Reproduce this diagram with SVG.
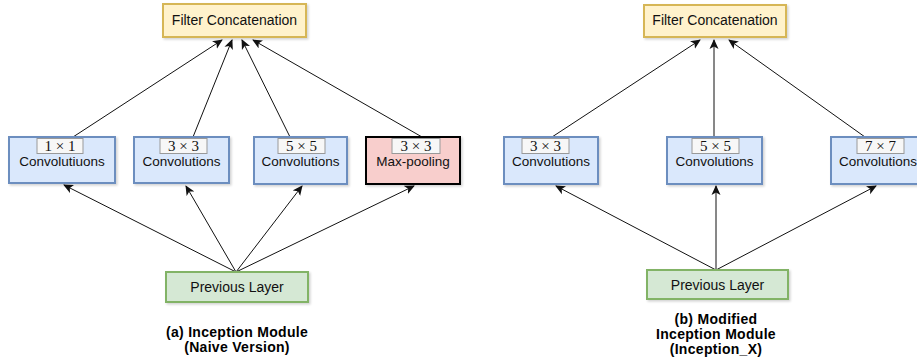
<svg xmlns="http://www.w3.org/2000/svg" width="917" height="362" viewBox="0 0 917 362">
<style>
.conv{fill:#dae8fc;stroke:#6c8ebf;stroke-width:2}
.pool{fill:#f8cecc;stroke:#000;stroke-width:2}
.cat{fill:#fff2cc;stroke:#d6b656;stroke-width:2}
.prev{fill:#d5e8d4;stroke:#82b366;stroke-width:2}
.lab{fill:#f7f7f7;stroke:#999;stroke-width:1}
.t{font-family:"Liberation Sans",Arial,sans-serif;font-size:13.5px;fill:#111;text-anchor:middle}
.t2{font-family:"Liberation Sans",Arial,sans-serif;font-size:14px;fill:#111;text-anchor:middle}
.k{font-family:"Liberation Serif","Times New Roman",serif;font-size:15px;fill:#111;text-anchor:middle}
.cap{font-family:"Liberation Sans",Arial,sans-serif;font-size:14px;font-weight:bold;fill:#000;text-anchor:middle;letter-spacing:0.3px}
.e{stroke:#111;stroke-width:1;fill:none;marker-end:url(#ah)}
</style>
<defs>
<marker id="ah" viewBox="0 0 10 10" refX="9" refY="5" markerWidth="10" markerHeight="10" markerUnits="userSpaceOnUse" orient="auto">
<path d="M0,0.5 L10,5 L0,9.5 L2.5,5 Z" fill="#111"/>
</marker>
<filter id="sh" x="-10%" y="-10%" width="130%" height="140%">
<feDropShadow dx="1.5" dy="1.5" stdDeviation="1" flood-color="#000" flood-opacity="0.18"/>
</filter>
</defs>
<rect width="917" height="362" fill="#fff"/>
<g id="connectors">
<path class="e" d="M73,137 L222,40"/>
<path class="e" d="M193,137 L232,40"/>
<path class="e" d="M290,137 L242,40"/>
<path class="e" d="M422,137 L253,40"/>
<path class="e" d="M236,272 L64,185"/>
<path class="e" d="M236,272 L186,186"/>
<path class="e" d="M236,272 L302,186"/>
<path class="e" d="M236,272 L414,186"/>
<path class="e" d="M552,137 L700,40"/>
<path class="e" d="M714,137 L714,40"/>
<path class="e" d="M865,137 L729,40"/>
<path class="e" d="M716,270 L556,186"/>
<path class="e" d="M716,270 L716,186"/>
<path class="e" d="M716,270 L876,186"/>
</g>
<g id="a-concat">
<rect class="cat" x="163" y="4" width="143" height="33" filter="url(#sh)"/>
<text class="t2" x="234.5" y="25">Filter Concatenation</text>
</g>
<g id="a-conv1">
<rect class="conv" x="9" y="137" width="106" height="46" filter="url(#sh)"/>
<rect class="lab" x="37" y="138.5" width="46" height="15"/>
<text class="k" x="60" y="150.5">1 × 1</text>
<text class="t" x="62" y="166">Convolutiuons</text>
</g>
<g id="a-conv3">
<rect class="conv" x="134" y="137" width="95" height="46" filter="url(#sh)"/>
<rect class="lab" x="160" y="138.5" width="47" height="15"/>
<text class="k" x="183.5" y="150.5">3 × 3</text>
<text class="t" x="181.5" y="166">Convolutions</text>
</g>
<g id="a-conv5">
<rect class="conv" x="254" y="137" width="93" height="47" filter="url(#sh)"/>
<rect class="lab" x="278" y="138.5" width="47" height="15"/>
<text class="k" x="301.5" y="150.5">5 × 5</text>
<text class="t" x="300.5" y="166">Convolutions</text>
</g>
<g id="a-pool">
<rect class="pool" x="366" y="137" width="94" height="47" filter="url(#sh)"/>
<rect class="lab" x="392" y="138.5" width="48" height="15"/>
<text class="k" x="416" y="150.5">3 × 3</text>
<text class="t" x="413" y="166">Max-pooling</text>
</g>
<g id="a-prev">
<rect class="prev" x="166" y="272" width="142" height="30" filter="url(#sh)"/>
<text class="t2" x="237" y="292">Previous Layer</text>
</g>
<g id="a-caption">
<text class="cap" x="237" y="337">(a) Inception Module</text>
<text class="cap" x="237" y="352">(Naive Version)</text>
</g>
<g id="b-concat">
<rect class="cat" x="644" y="5" width="142" height="32" filter="url(#sh)"/>
<text class="t2" x="715" y="25">Filter Concatenation</text>
</g>
<g id="b-conv3">
<rect class="conv" x="504" y="137" width="94" height="47" filter="url(#sh)"/>
<rect class="lab" x="522" y="138.5" width="47" height="15"/>
<text class="k" x="545.5" y="150.5">3 × 3</text>
<text class="t" x="551" y="166">Convolutions</text>
</g>
<g id="b-conv5">
<rect class="conv" x="667" y="137" width="95" height="47" filter="url(#sh)"/>
<rect class="lab" x="692" y="138.5" width="47" height="15"/>
<text class="k" x="715.5" y="150.5">5 × 5</text>
<text class="t" x="714.5" y="166">Convolutions</text>
</g>
<g id="b-conv7">
<rect class="conv" x="831" y="137" width="94" height="47" filter="url(#sh)"/>
<rect class="lab" x="857" y="138.5" width="47" height="15"/>
<text class="k" x="880.5" y="150.5">7 × 7</text>
<text class="t" x="878" y="166">Convolutions</text>
</g>
<g id="b-prev">
<rect class="prev" x="647" y="270" width="141" height="29" filter="url(#sh)"/>
<text class="t2" x="717.5" y="289.5">Previous Layer</text>
</g>
<g id="b-caption">
<text class="cap" x="716" y="324">(b) Modified</text>
<text class="cap" x="716" y="339">Inception Module</text>
<text class="cap" x="716" y="354">(Inception_X)</text>
</g>
</svg>
